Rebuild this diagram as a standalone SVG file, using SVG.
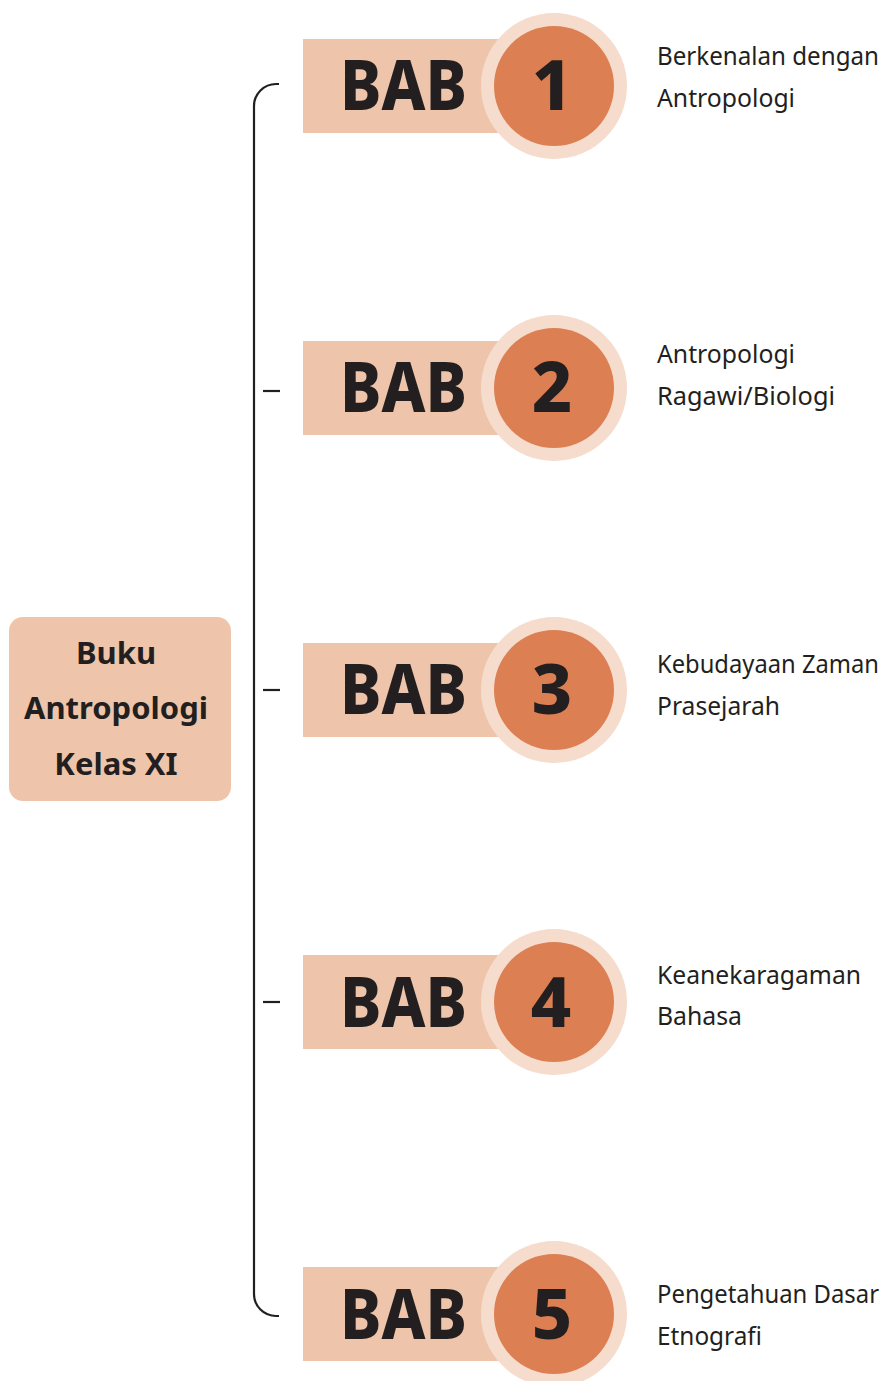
<svg xmlns="http://www.w3.org/2000/svg" width="895" height="1381" viewBox="0 0 895 1381">
<style>
.bar{fill:#eec5ab}
.ring{fill:#f6dccd}
.disc{fill:#dc7f52}
.bab{font-family:"Noto Sans","Open Sans",sans-serif;font-weight:800;font-size:70px;fill:#231f20}
.num{font-family:"Noto Sans","Open Sans",sans-serif;font-weight:800;font-size:70px;fill:#231f20;text-anchor:middle}
.lbl{font-family:"Noto Sans","Open Sans",sans-serif;font-size:26px;fill:#231f20}
.sm{font-size:24.5px}
.root{font-family:"Noto Sans","Open Sans",sans-serif;font-weight:700;font-size:31px;fill:#231f20;text-anchor:middle}
.conn{fill:none;stroke:#231f20;stroke-width:2.2}
</style>
<rect width="895" height="1381" fill="#ffffff"/>
<g id="connectors">
<path class="conn" d="M279,84 H276 A22,22 0 0 0 254,106 V1294 A22,22 0 0 0 276,1316 H279"/>
<path class="conn" d="M263,391 H280"/>
<path class="conn" d="M263,690 H280"/>
<path class="conn" d="M263,1002 H280"/>
</g>
<g id="root">
<rect class="bar" x="9" y="617" width="222" height="184" rx="14"/>
<text class="root" x="116" y="664">Buku</text>
<text class="root" x="116" y="719" textLength="184" lengthAdjust="spacingAndGlyphs">Antropologi</text>
<text class="root" x="116" y="775">Kelas XI</text>
</g>
<g id="bab1">
<rect class="bar" x="303" y="39" width="200" height="94"/>
<circle class="ring" cx="554" cy="86" r="73"/>
<circle class="disc" cx="554" cy="86" r="60"/>
<text class="bab" x="340" y="110" textLength="127" lengthAdjust="spacingAndGlyphs">BAB</text>
<text class="num" x="552" y="110">1</text>
<text class="lbl" x="657" y="65" textLength="222" lengthAdjust="spacingAndGlyphs">Berkenalan dengan</text>
<text class="lbl" x="657" y="107" textLength="138" lengthAdjust="spacingAndGlyphs">Antropologi</text>
</g>
<g id="bab2">
<rect class="bar" x="303" y="341" width="200" height="94"/>
<circle class="ring" cx="554" cy="388" r="73"/>
<circle class="disc" cx="554" cy="388" r="60"/>
<text class="bab" x="340" y="412" textLength="127" lengthAdjust="spacingAndGlyphs">BAB</text>
<text class="num" x="552" y="412">2</text>
<text class="lbl" x="657" y="363" textLength="138" lengthAdjust="spacingAndGlyphs">Antropologi</text>
<text class="lbl" x="657" y="405" textLength="178" lengthAdjust="spacingAndGlyphs">Ragawi/Biologi</text>
</g>
<g id="bab3">
<rect class="bar" x="303" y="643" width="200" height="94"/>
<circle class="ring" cx="554" cy="690" r="73"/>
<circle class="disc" cx="554" cy="690" r="60"/>
<text class="bab" x="340" y="714" textLength="127" lengthAdjust="spacingAndGlyphs">BAB</text>
<text class="num" x="552" y="714">3</text>
<text class="lbl sm" x="657" y="673" textLength="222" lengthAdjust="spacingAndGlyphs">Kebudayaan Zaman</text>
<text class="lbl" x="657" y="715" textLength="123" lengthAdjust="spacingAndGlyphs">Prasejarah</text>
</g>
<g id="bab4">
<rect class="bar" x="303" y="955" width="200" height="94"/>
<circle class="ring" cx="554" cy="1002" r="73"/>
<circle class="disc" cx="554" cy="1002" r="60"/>
<text class="bab" x="340" y="1027" textLength="127" lengthAdjust="spacingAndGlyphs">BAB</text>
<text class="num" x="551" y="1027">4</text>
<text class="lbl" x="657" y="984" textLength="204" lengthAdjust="spacingAndGlyphs">Keanekaragaman</text>
<text class="lbl" x="657" y="1025" textLength="85" lengthAdjust="spacingAndGlyphs">Bahasa</text>
</g>
<g id="bab5">
<rect class="bar" x="303" y="1267" width="200" height="94"/>
<circle class="ring" cx="554" cy="1314" r="73"/>
<circle class="disc" cx="554" cy="1314" r="60"/>
<text class="bab" x="340" y="1339" textLength="127" lengthAdjust="spacingAndGlyphs">BAB</text>
<text class="num" x="552" y="1339">5</text>
<text class="lbl sm" x="657" y="1303" textLength="222" lengthAdjust="spacingAndGlyphs">Pengetahuan Dasar</text>
<text class="lbl" x="657" y="1345" textLength="105" lengthAdjust="spacingAndGlyphs">Etnografi</text>
</g>
</svg>
